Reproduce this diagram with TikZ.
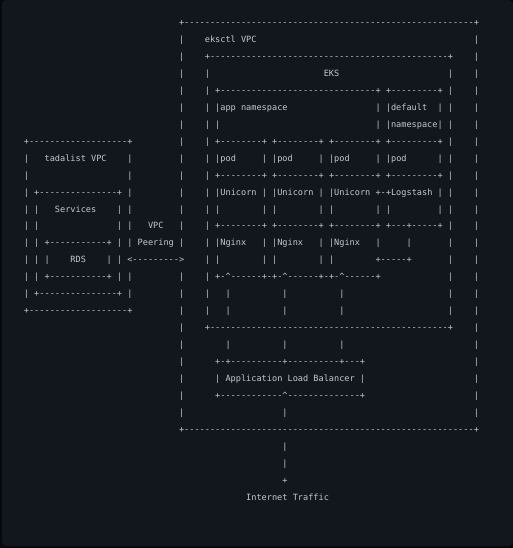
\documentclass[tikz,border=0pt]{standalone}
\usepackage{fontspec}
\setmonofont{DejaVu Sans Mono}
\definecolor{termbg}{HTML}{12161D}
\definecolor{termedge}{HTML}{07090C}
\definecolor{termfg}{HTML}{C3C8CF}
\ExplSyntaxOn
\cs_new:Npn \asciirep #1#2 { \prg_replicate:nn {#1} {#2} }
\ExplSyntaxOff
\newcommand\colgap[1]{\asciirep{#1}{\ }}
\newcommand\dashrun[1]{\asciirep{#1}{-}}
\newcommand\tipup{\textasciicircum}
\newcommand\asciifont{\ttfamily\frenchspacing\fontsize{8.59}{10}\selectfont}

\begin{document}
\begin{tikzpicture}[x=1pt,y=1pt,ascii/.style={anchor=base west,inner sep=0pt,outer sep=0pt,text=termfg,font=\asciifont}]
  \fill[termedge] (0,0) rectangle (513,-548);
  \fill[termbg,rounded corners=4pt] (2,0) rectangle (513,-546);
  \begin{scope}[shift={(23.9,-25.7)},x=5.17pt,y=-16.94pt]
  % eksctl VPC and EKS header
  \node[ascii] (row0) at (30,0) {+\dashrun{56}+};
  \node[ascii] (row1) at (30,1) {|\colgap{4}eksctl VPC\colgap{42}|};
  \node[ascii] (row2) at (30,2) {|\colgap{4}+\dashrun{46}+\colgap{4}|};
  \node[ascii] (row3) at (30,3) {|\colgap{4}|\colgap{22}EKS\colgap{21}|\colgap{4}|};
  \node[ascii] (row4) at (30,4) {|\colgap{4}| +\dashrun{30}+ +\dashrun{9}+ |\colgap{4}|};
  \node[ascii] (row5) at (30,5) {|\colgap{4}| |app namespace\colgap{17}| |default\colgap{2}| |\colgap{4}|};
  \node[ascii] (row6) at (30,6) {|\colgap{4}| |\colgap{30}| |namespace| |\colgap{4}|};
  % tadalist VPC beside the pods
  \node[ascii] (row7) at (0,7) {+\dashrun{19}+\colgap{9}|\colgap{4}| +\dashrun{8}+ +\dashrun{8}+ +\dashrun{8}+ +\dashrun{9}+ |\colgap{4}|};
  \node[ascii] (row8) at (0,8) {|\colgap{3}tadalist VPC\colgap{4}|\colgap{9}|\colgap{4}| |pod\colgap{5}| |pod\colgap{5}| |pod\colgap{5}| |pod\colgap{6}| |\colgap{4}|};
  \node[ascii] (row9) at (0,9) {|\colgap{19}|\colgap{9}|\colgap{4}| +\dashrun{8}+ +\dashrun{8}+ +\dashrun{8}+ +\dashrun{9}+ |\colgap{4}|};
  \node[ascii] (row10) at (0,10) {| +\dashrun{15}+ |\colgap{9}|\colgap{4}| |Unicorn | |Unicorn | |Unicorn +-+Logstash | |\colgap{4}|};
  \node[ascii] (row11) at (0,11) {| |\colgap{3}Services\colgap{4}| |\colgap{9}|\colgap{4}| |\colgap{8}| |\colgap{8}| |\colgap{8}| |\colgap{9}| |\colgap{4}|};
  \node[ascii] (row12) at (0,12) {| |\colgap{15}| |\colgap{3}VPC\colgap{3}|\colgap{4}| +\dashrun{8}+ +\dashrun{8}+ +\dashrun{8}+ +---+-----+ |\colgap{4}|};
  \node[ascii] (row13) at (0,13) {| | +\dashrun{11}+ | | Peering |\colgap{4}| |Nginx\colgap{3}| |Nginx\colgap{3}| |Nginx\colgap{3}|\colgap{5}|\colgap{7}|\colgap{4}|};
  \node[ascii] (row14) at (0,14) {| | |\colgap{4}RDS\colgap{4}| | <\dashrun{9}>\colgap{4}| |\colgap{8}| |\colgap{8}| |\colgap{8}+\dashrun{5}+\colgap{7}|\colgap{4}|};
  \node[ascii] (row15) at (0,15) {| | +\dashrun{11}+ | |\colgap{9}|\colgap{4}| +-\tipup------+-+-\tipup------+-+-\tipup------+\colgap{13}|\colgap{4}|};
  \node[ascii] (row16) at (0,16) {| +\dashrun{15}+ |\colgap{9}|\colgap{4}|\colgap{3}|\colgap{10}|\colgap{10}|\colgap{20}|\colgap{4}|};
  \node[ascii] (row17) at (0,17) {+\dashrun{19}+\colgap{9}|\colgap{4}|\colgap{3}|\colgap{10}|\colgap{10}|\colgap{20}|\colgap{4}|};
  % load balancer
  \node[ascii] (row18) at (30,18) {|\colgap{4}+\dashrun{46}+\colgap{4}|};
  \node[ascii] (row19) at (30,19) {|\colgap{8}|\colgap{10}|\colgap{10}|\colgap{25}|};
  \node[ascii] (row20) at (30,20) {|\colgap{6}+-+\dashrun{10}+\dashrun{10}+---+\colgap{21}|};
  \node[ascii] (row21) at (30,21) {|\colgap{6}| Application Load Balancer |\colgap{21}|};
  \node[ascii] (row22) at (30,22) {|\colgap{6}+\dashrun{12}\tipup\dashrun{14}+\colgap{21}|};
  \node[ascii] (row23) at (30,23) {|\colgap{19}|\colgap{36}|};
  \node[ascii] (row24) at (30,24) {+\dashrun{56}+};
  % traffic in
  \node[ascii] (row25) at (50,25) {|};
  \node[ascii] (row26) at (50,26) {|};
  \node[ascii] (row27) at (50,27) {+};
  \node[ascii] (row28) at (43,28) {Internet Traffic};
  \end{scope}
\end{tikzpicture}
\end{document}
